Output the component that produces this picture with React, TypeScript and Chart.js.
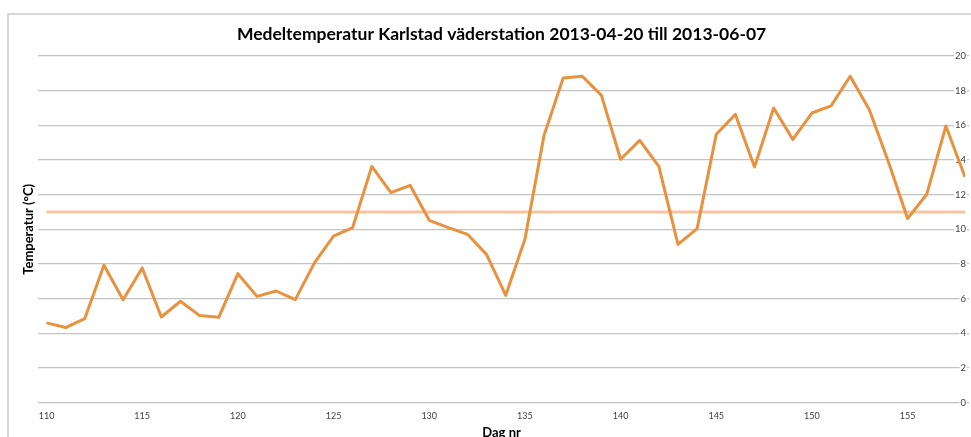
import { useEffect, useRef } from "react";
import { Chart, registerables } from "chart.js";

Chart.register(...registerables);

const days = [
  110, 111, 112, 113, 114, 115, 116, 117, 118, 119,
  120, 121, 122, 123, 124, 125, 126, 127, 128, 129,
  130, 131, 132, 133, 134, 135, 136, 137, 138, 139,
  140, 141, 142, 143, 144, 145, 146, 147, 148, 149,
  150, 151, 152, 153, 154, 155, 156, 157, 158,
];

const temperatures = [
  4.6, 4.33, 4.85, 7.92, 5.94, 7.77, 4.94, 5.85, 5.02, 4.92,
  7.44, 6.13, 6.44, 5.94, 8.06, 9.6, 10.1, 13.63, 12.12, 12.54,
  10.52, 10.1, 9.71, 8.54, 6.19, 9.42, 15.42, 18.73, 18.83, 17.73,
  14.04, 15.13, 13.63, 9.13, 10.04, 15.48, 16.63, 13.6, 17.0, 15.19,
  16.71, 17.12, 18.83, 16.9, 13.88, 10.62, 12.02, 15.96, 13.02,
];

const averageDays = [110, 158];
const averageLevel = [11, 11];

const xTickValues = [110, 115, 120, 125, 130, 135, 140, 145, 150, 155];
const yTickValues = [0, 2, 4, 6, 8, 10, 12, 14, 16, 18, 20];

const TITLE = "Medeltemperatur Karlstad väderstation 2013-04-20 till 2013-06-07";
const X_TITLE = "Dag nr";
const Y_TITLE = "Temperatur (°C)";

export default function App() {
  const ref = useRef<HTMLCanvasElement | null>(null);

  useEffect(() => {
    if (!ref.current) return;
    const chart = new Chart(ref.current, {
      type: "line",
      data: {
        datasets: [
          {
            data: days.map((d, i) => ({ x: d, y: temperatures[i] })),
            borderColor: "#E8913F",
            borderWidth: 3,
            pointRadius: 0,
            tension: 0,
            borderJoinStyle: "round",
            yAxisID: "y",
            xAxisID: "x",
          },
          {
            data: averageDays.map((d, i) => ({ x: d, y: averageLevel[i] })),
            borderColor: "#F8C3A0",
            borderWidth: 3,
            pointRadius: 0,
            yAxisID: "y",
            xAxisID: "x",
          },
        ],
      },
      options: {
        responsive: false,
        animation: false,
        layout: { padding: { left: 21, right: 0, top: 0, bottom: 0 } },
        plugins: {
          legend: { display: false },
          tooltip: { enabled: false },
          title: {
            display: true,
            fullSize: false,
            text: TITLE,
            color: "#000",
            font: { family: "Lato", size: 17.5, weight: "bold" },
            padding: { top: 24, bottom: 11 },
          },
        },
        scales: {
          x: {
            type: "linear",
            min: 109.56,
            max: 158,
            grid: { display: false, drawTicks: false },
            border: { display: false },
            afterBuildTicks: (s: any) => {
              s.ticks = xTickValues.map((v) => ({ value: v }));
            },
            ticks: {
              font: { family: "Lato", size: 9 },
              color: "#404040",
              padding: 8,
              autoSkip: false,
              maxRotation: 0,
            },
            title: {
              display: true,
              text: X_TITLE,
              color: "#000",
              font: { family: "Lato", size: 13, weight: "bold" },
              padding: { top: -4, bottom: 0 },
            },
          },
          y: {
            type: "linear",
            position: "right",
            min: 0,
            max: 20,
            afterBuildTicks: (s: any) => {
              s.ticks = yTickValues.map((v) => ({ value: v }));
            },
            grid: { color: "#c4c4c4", lineWidth: 1.3, tickLength: 4, drawTicks: true },
            border: { display: false },
            ticks: {
              mirror: true,
              padding: 1,
              font: { family: "Lato", size: 9.5 },
              color: "#404040",
              showLabelBackdrop: true,
              backdropColor: "#ffffff",
              backdropPadding: 1,
            },
          },
          yl: {
            type: "linear",
            position: "left",
            grid: { display: false, drawTicks: false },
            border: { display: false },
            ticks: { display: false },
            title: {
              display: true,
              text: Y_TITLE,
              color: "#000",
              font: { family: "Lato", size: 13, weight: "bold" },
              padding: { top: 0, bottom: 1.5 },
            },
          },
        },
      },
    } as any);
    return () => chart.destroy();
  }, []);

  return (
    <div
      style={{
        position: "fixed",
        left: 0,
        top: 0,
        width: 971,
        height: 437,
        background: "#fff",
        overflow: "hidden",
      }}
    >
      <div
        style={{
          position: "absolute",
          left: 7,
          top: 13,
          right: -10,
          bottom: -10,
          borderLeft: "2px solid #d6d6d6",
          borderTop: "2px solid #d6d6d6",
        }}
      />
      <canvas
        ref={ref}
        width={971}
        height={441}
        style={{ position: "absolute", left: 0, top: 0 }}
      />
    </div>
  );
}
